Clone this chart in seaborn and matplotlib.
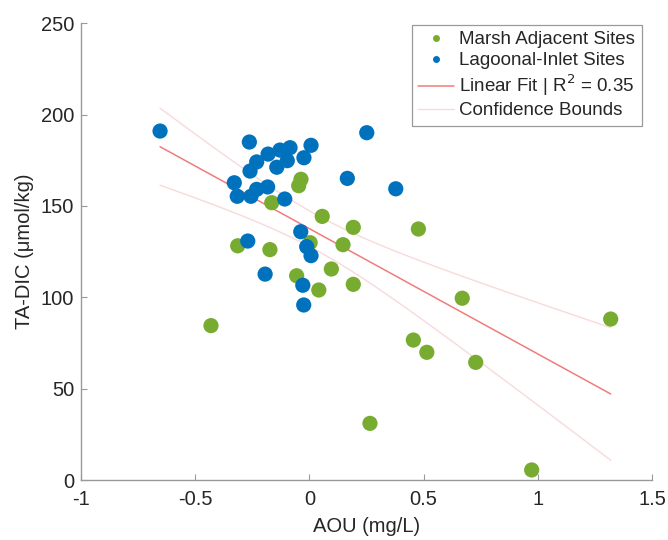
import numpy as np
import pandas as pd
import matplotlib
matplotlib.use("Agg")
import matplotlib.pyplot as plt
from matplotlib.lines import Line2D
import seaborn as sns

# AOU (mg/L) and TA-DIC (umol/kg) per site group
marsh_aou = [-0.037, -0.047, -0.165, 0.056, 0.192, 0.477, -0.314, -0.173, 0.003,
             0.147, 0.096, -0.056, 0.041, 0.192, -0.431, 0.669, 1.319, 0.455,
             0.514, 0.728, 0.973, 0.265]
marsh_tadic = [164.6, 161.1, 151.8, 144.3, 138.3, 137.4, 128.2, 126.1, 129.9,
               128.8, 115.5, 111.8, 104.0, 107.1, 84.5, 99.5, 88.1, 76.6,
               69.9, 64.4, 5.5, 31.0]

inlet_aou = [-0.654, -0.263, -0.181, -0.231, -0.260, -0.129, -0.085, -0.097, -0.143,
             0.007, -0.024, 0.251, -0.329, -0.316, -0.256, -0.231, -0.183, -0.108,
             0.166, 0.378, -0.038, -0.270, -0.012, 0.007, -0.194, -0.029, -0.025]
inlet_tadic = [191.0, 185.0, 178.4, 174.1, 169.1, 180.6, 181.9, 174.8, 171.2,
               183.2, 176.4, 190.1, 162.7, 155.3, 155.3, 159.1, 160.4, 153.8,
               165.1, 159.4, 135.9, 130.8, 127.7, 122.8, 112.7, 106.6, 95.8]

groups = ["Marsh Adjacent Sites", "Lagoonal-Inlet Sites"]
palette = {groups[0]: "#77AC30", groups[1]: "#0072BD"}
r2_label = 0.35

df = pd.DataFrame({
    "AOU": marsh_aou + inlet_aou,
    "TADIC": marsh_tadic + inlet_tadic,
    "group": [groups[0]] * len(marsh_aou) + [groups[1]] * len(inlet_aou),
})

sns.set_theme(style="white")
plt.rcParams["font.family"] = ["Liberation Sans", "DejaVu Sans"]

fig = plt.figure(figsize=(6.68, 5.40), dpi=100)
ax = fig.add_axes([0.1213, 0.1111, 0.8548, 0.8458])

sns.scatterplot(data=df, x="AOU", y="TADIC", hue="group", palette=palette,
                s=120, linewidth=0, ax=ax, legend=False, zorder=2)

# least-squares fit on all sites with 95% confidence bounds of the fitted line
x = df["AOU"].to_numpy()
y = df["TADIC"].to_numpy()
n = len(x)
slope, intercept = np.polyfit(x, y, 1)
resid = y - (slope * x + intercept)
s = np.sqrt(np.sum(resid ** 2) / (n - 2))
sxx = np.sum((x - x.mean()) ** 2)
t_val = 2.0117
xf = np.linspace(x.min(), x.max(), 200)
yf = slope * xf + intercept
half = t_val * s * np.sqrt(1.0 / n + (xf - x.mean()) ** 2 / sxx)

fit_color = "#F07C7C"
band_color = "#F9DADA"
ax.plot(xf, yf, color=fit_color, lw=1.1, zorder=1)
ax.plot(xf, yf + half, color=band_color, lw=1.0, zorder=1)
ax.plot(xf, yf - half, color=band_color, lw=1.0, zorder=1)

ax.set_xlim(-1, 1.5)
ax.set_ylim(0, 250)
ax.set_xticks([-1, -0.5, 0, 0.5, 1, 1.5])
ax.set_xticklabels(["-1", "-0.5", "0", "0.5", "1", "1.5"])
ax.set_yticks([0, 50, 100, 150, 200, 250])
ax.set_xlabel("AOU (mg/L)", fontsize=14.5, color="#262626", labelpad=6)
ax.set_ylabel("TA-DIC (μmol/kg)", fontsize=14.5, color="#262626", labelpad=5)
ax.tick_params(axis="x", pad=7)
ax.tick_params(axis="y", pad=5)
ax.tick_params(axis="both", direction="in", length=4, width=0.8, color="#9a9a9a",
               labelsize=14.5, labelcolor="#262626",
               bottom=True, left=True, top=False, right=False)
for side in ["top", "right"]:
    ax.spines[side].set_visible(False)
for side in ["left", "bottom"]:
    ax.spines[side].set_color("#9a9a9a")
    ax.spines[side].set_linewidth(1.0)

handles = [
    Line2D([], [], ls="none", marker="o", ms=5, mew=0, color=palette[groups[0]]),
    Line2D([], [], ls="none", marker="o", ms=5, mew=0, color=palette[groups[1]]),
    Line2D([], [], color=fit_color, lw=1.1),
    Line2D([], [], color=band_color, lw=1.0),
]
labels = [groups[0], groups[1], f"Linear Fit | R$^2$ = {r2_label:.2f}", "Confidence Bounds"]
leg = ax.legend(handles, labels, loc="upper right", bbox_to_anchor=(0.982, 0.997),
                fontsize=13.5, frameon=True, fancybox=False, framealpha=1,
                edgecolor="#9a9a9a", handlelength=1.9, handletextpad=0.3,
                labelspacing=0.2, borderpad=0.35, borderaxespad=0)
leg.get_frame().set_linewidth(0.9)

fig.savefig("out.png", dpi=100)
